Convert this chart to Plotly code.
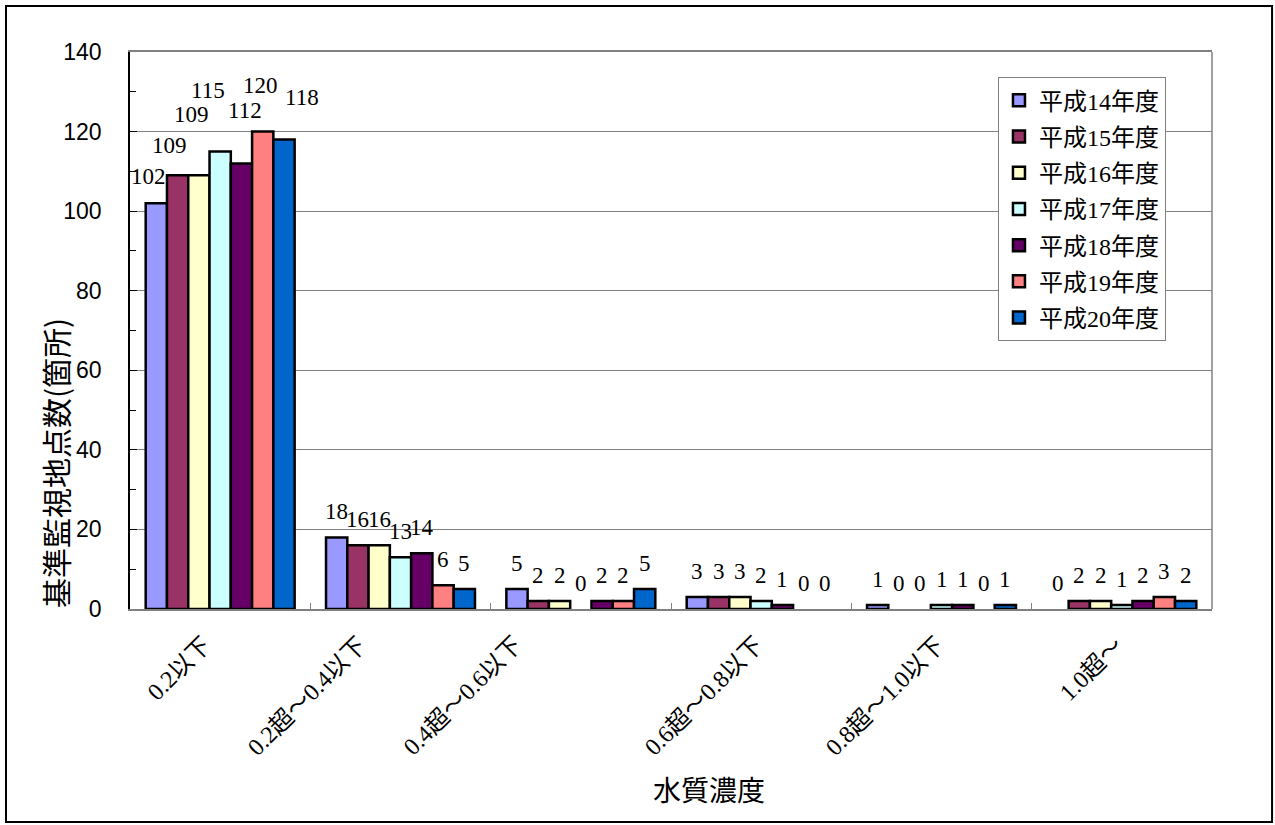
import plotly.graph_objects as go

categories = ["0.2以下", "0.2超～0.4以下", "0.4超～0.6以下", "0.6超～0.8以下", "0.8超～1.0以下", "1.0超～"]
series_names = ["平成14年度", "平成15年度", "平成16年度", "平成17年度", "平成18年度", "平成19年度", "平成20年度"]
h14 = [102, 18, 5, 3, 1, 0]
h15 = [109, 16, 2, 3, 0, 2]
h16 = [109, 16, 2, 3, 0, 2]
h17 = [115, 13, 0, 2, 1, 1]
h18 = [112, 14, 2, 1, 1, 2]
h19 = [120, 6, 2, 0, 0, 3]
h20 = [118, 5, 5, 0, 1, 2]
series_values = [h14, h15, h16, h17, h18, h19, h20]
colors = ["#9999FF", "#993366", "#FFFFCC", "#CCFFFF", "#660066", "#FF8080", "#0066CC"]

y_title = "基準監視地点数(箇所)"
x_title = "水質濃度"

SERIF = "Liberation Serif, Noto Sans CJK JP, serif"
SANS = "Noto Sans CJK JP, sans-serif"

BARGAP = 0.174
n = len(series_names)
bw = (1 - BARGAP) / n

# manual label offsets (px) for first group (as in original)
first_group_offsets = [(-7.5, 27), (-8, 30), (-7, 61), (-12, 61), (4, 53), (-2, 46), (18, 42)]
# x label end shifts (px)
xlabel_shifts = [-2, -26, -51, 10, 11, 9]

fig = go.Figure()
for i, (name, vals, col) in enumerate(zip(series_names, series_values, colors)):
    fig.add_trace(go.Bar(
        name=name, x=categories, y=vals,
        marker=dict(color=col, line=dict(color="black", width=[2.5 if v > 0 else 0 for v in vals])),
        legendgroup=name,
    ))

annotations = []
for i, vals in enumerate(series_values):
    for c, v in enumerate(vals):
        if c == 0:
            dx, dy = first_group_offsets[i]
        else:
            dx, dy = 0, 26
        annotations.append(dict(
            x=c + (i - (n - 1) / 2) * bw, y=v, xref="x", yref="y",
            text=str(v), showarrow=False, xshift=dx, yshift=dy,
            xanchor="center", yanchor="middle",
            font=dict(family=SERIF, size=23, color="black"),
        ))

for c, cat in enumerate(categories):
    annotations.append(dict(
        x=c, y=0, xref="x", yref="y", text=cat, showarrow=False,
        textangle=-45, xanchor="right", yanchor="top",
        xshift=xlabel_shifts[c], yshift=-20,
        font=dict(family=SERIF, size=24, color="black"),
    ))

annotations.append(dict(
    x=-0.0693, y=0.262, xref="paper", yref="paper", text=y_title, showarrow=False,
    textangle=-90, xanchor="center", yanchor="middle",
    font=dict(family=SANS, size=30, color="black"),
))
annotations.append(dict(
    x=0.535, y=-0.323, xref="paper", yref="paper", text=x_title, showarrow=False,
    xanchor="center", yanchor="middle",
    font=dict(family=SANS, size=28, color="black"),
))

shapes = [
    dict(type="rect", xref="paper", yref="paper", x0=-0.1146, x1=1.0555, y0=-0.3824, y1=1.0826,
         line=dict(color="black", width=2), layer="below"),
    dict(type="line", xref="paper", yref="paper", x0=1, x1=1, y0=0, y1=1,
         line=dict(color="#808080", width=1.5)),
]

fig.update_layout(
    width=1275, height=825,
    margin=dict(l=130, r=63, t=52, b=216),
    paper_bgcolor="white", plot_bgcolor="white",
    barmode="group", bargap=BARGAP, bargroupgap=0,
    annotations=annotations, shapes=shapes,
    legend=dict(
        x=0.802, y=0.955, xanchor="left", yanchor="top",
        bordercolor="#808080", borderwidth=1.2, bgcolor="white",
        font=dict(family=SERIF, size=24, color="black"),
        tracegroupgap=2, itemwidth=30,
    ),
    xaxis=dict(
        type="category", range=[-0.5, len(categories) - 0.5],
        showticklabels=False, ticks="inside", tickson="boundaries", ticklen=6,
        tickcolor="#808080", showline=True, linecolor="#808080", linewidth=1.5, mirror=True,
        showgrid=False,
    ),
    yaxis=dict(
        range=[0, 140], dtick=20, ticks="inside", ticklen=7, tickcolor="black",
        showline=True, linecolor="black", linewidth=1.5,
        showgrid=True, gridcolor="#808080", gridwidth=1,
        tickfont=dict(family="Liberation Sans, sans-serif", size=23, color="black"),
        ticklabelstandoff=22,
        minor=dict(ticks="inside", ticklen=6, dtick=10, tickcolor="black", showgrid=False),
        zeroline=False,
    ),
    showlegend=True,
)

fig.write_html("out.html")
